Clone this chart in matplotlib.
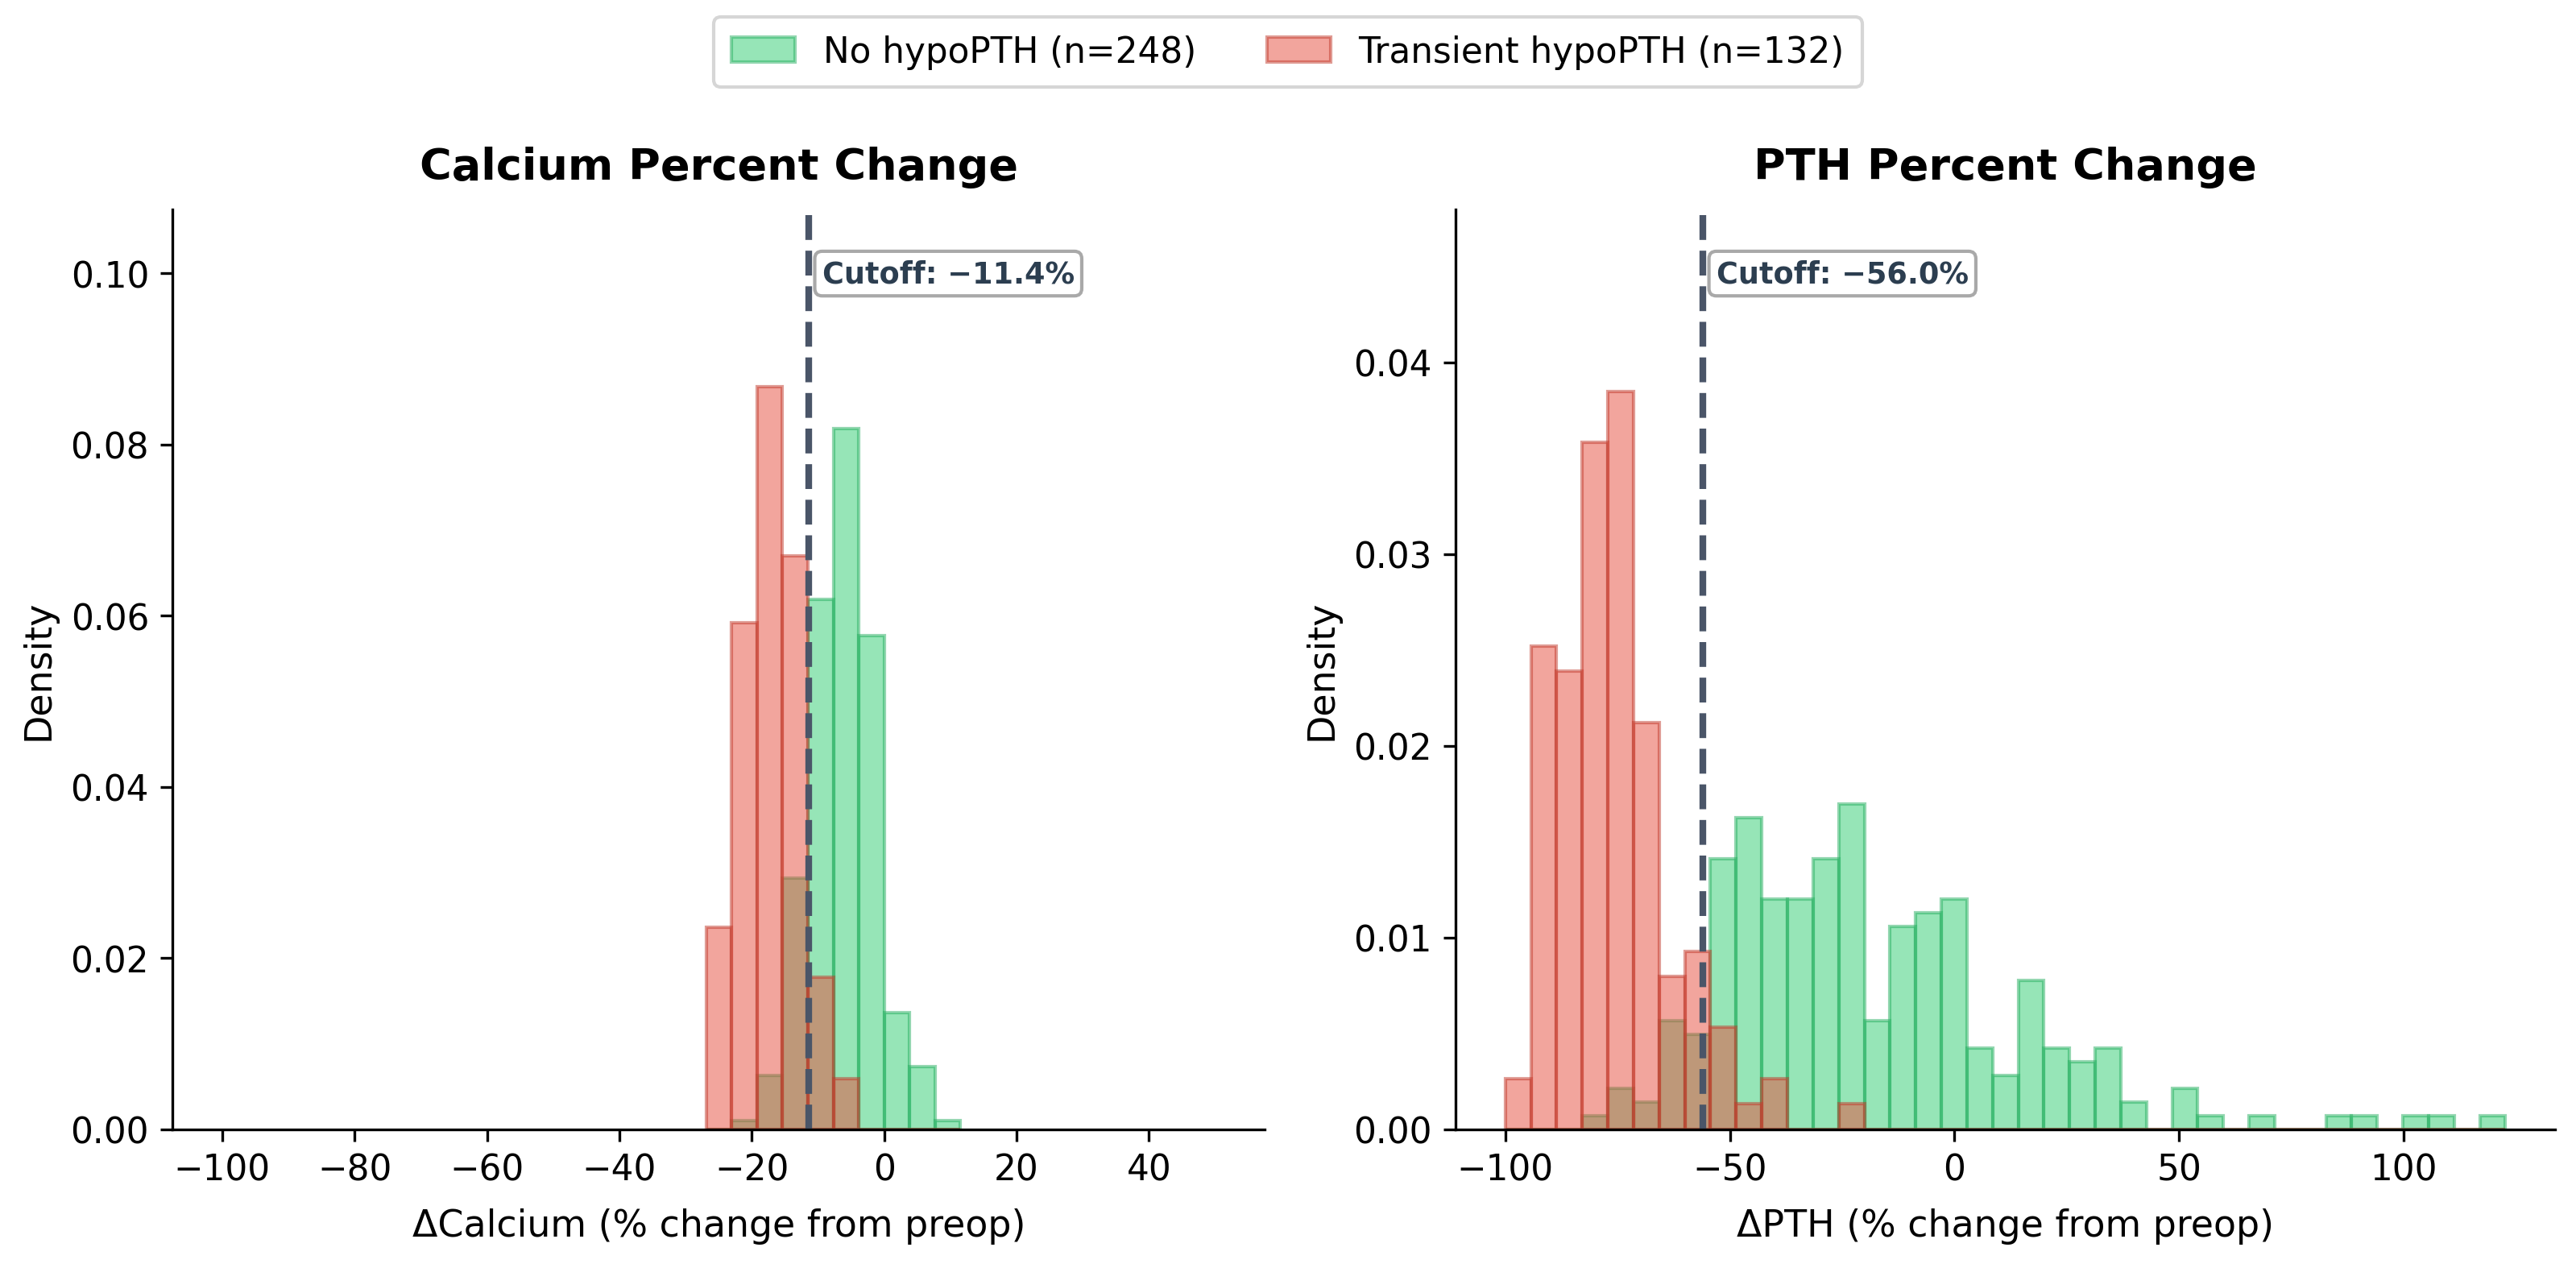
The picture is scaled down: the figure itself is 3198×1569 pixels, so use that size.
import numpy as np
import matplotlib
matplotlib.use("Agg")
import matplotlib.pyplot as plt
import matplotlib.transforms as mtransforms

plt.rcParams['font.family'] = ['DejaVu Sans']

# ---------------- data ----------------
groups = ["No hypoPTH (n=248)", "Transient hypoPTH (n=132)"]

# Calcium: shared bin edges (10 bins)
ca_bin_min, ca_bin_max, ca_nbins = -26.9, 11.53, 10
ca_no = [0.0, 0.00105, 0.0063, 0.02938, 0.06191, 0.08184, 0.05771, 0.01364, 0.00734, 0.00105]
ca_tr = [0.02365, 0.05914, 0.08674, 0.06703, 0.01774, 0.00591, 0.0, 0.0, 0.0, 0.0]
ca_cutoff = -11.4

# PTH: shared bin edges (39 bins)
pth_bin_min, pth_bin_max, pth_nbins = -100.0, 122.69, 39
pth_no = [0.0, 0.0, 0.0, 0.00071, 0.00212, 0.00141, 0.00565, 0.00494, 0.01412, 0.01624,
          0.012, 0.012, 0.01412, 0.01695, 0.00565, 0.01059, 0.0113, 0.012, 0.00424, 0.00282,
          0.00777, 0.00424, 0.00353, 0.00424, 0.00141, 0.0, 0.00212, 0.00071, 0.0, 0.00071,
          0.0, 0.0, 0.00071, 0.00071, 0.0, 0.00071, 0.00071, 0.0, 0.00071]
pth_tr = [0.00265, 0.02521, 0.02389, 0.03583, 0.03848, 0.02123, 0.00796, 0.00929, 0.00531, 0.00133,
          0.00265, 0.0, 0.0, 0.00133, 0.0, 0.0, 0.0, 0.0, 0.0, 0.0,
          0.0, 0.0, 0.0, 0.0, 0.0, 0.0, 0.0, 0.0, 0.0, 0.0,
          0.0, 0.0, 0.0, 0.0, 0.0, 0.0, 0.0, 0.0, 0.0]
pth_cutoff = -56.0

# ---------------- style ----------------
green_face, green_edge = '#2ecc71', '#27ae60'
red_face, red_edge = '#e74c3c', '#c0392b'
line_col = '#4a5568'
txt_col = '#2c3e50'

fig = plt.figure(figsize=(10.66, 5.2333), dpi=300)
ax1 = fig.add_axes([0.067, 0.1065, 0.424, 0.7275])
ax2 = fig.add_axes([0.565, 0.1065, 0.427, 0.7275])


def draw(ax, bmin, bmax, nb, no, tr, cutoff, title, xlabel, xlim, ylim, yticks):
    edges = np.linspace(bmin, bmax, nb + 1)
    centers = (edges[:-1] + edges[1:]) / 2
    ax.hist(centers, bins=edges, weights=no, color=green_face, edgecolor=green_edge,
            alpha=0.5, linewidth=1.0, label=groups[0])
    ax.hist(centers, bins=edges, weights=tr, color=red_face, edgecolor=red_edge,
            alpha=0.5, linewidth=1.0, label=groups[1])
    ax.axvline(cutoff, color=line_col, linestyle='--', linewidth=2.0)
    trans = mtransforms.blended_transform_factory(ax.transData, ax.transAxes)
    ax.annotate(f"Cutoff: \u2212{abs(cutoff):.1f}%", xy=(cutoff, 0.93), xycoords=trans,
                xytext=(4, 0), textcoords='offset points', ha='left', va='center',
                fontsize=8.8, fontweight='bold', color=txt_col,
                bbox=dict(boxstyle='round,pad=0.25', fc='white', ec='#a0a0a0', lw=1.0, alpha=0.9))
    ax.set_xlim(*xlim)
    ax.set_ylim(*ylim)
    ax.set_yticks(yticks)
    ax.yaxis.set_major_formatter(matplotlib.ticker.FormatStrFormatter('%.2f'))
    ax.set_title(title, fontsize=13, fontweight='bold', pad=9)
    ax.set_xlabel(xlabel, fontsize=11, labelpad=6)
    ax.set_ylabel('Density', fontsize=11)
    ax.tick_params(labelsize=10.5)
    for s in ['top', 'right']:
        ax.spines[s].set_visible(False)


draw(ax1, ca_bin_min, ca_bin_max, ca_nbins, ca_no, ca_tr, ca_cutoff,
     'Calcium Percent Change', '\u0394Calcium (% change from preop)',
     (-107.5, 57.5), (0, 0.1075), [0, 0.02, 0.04, 0.06, 0.08, 0.10])
draw(ax2, pth_bin_min, pth_bin_max, pth_nbins, pth_no, pth_tr, pth_cutoff,
     'PTH Percent Change', '\u0394PTH (% change from preop)',
     (-111.1, 133.8), (0, 0.048), [0, 0.01, 0.02, 0.03, 0.04])

h, l = ax1.get_legend_handles_labels()
fig.legend(h, l, loc='upper center', bbox_to_anchor=(0.5, 1.0), ncol=2, fontsize=10.5,
           frameon=True, columnspacing=2.0, handlelength=1.8, borderpad=0.5)

fig.savefig('out.png', dpi=300)
